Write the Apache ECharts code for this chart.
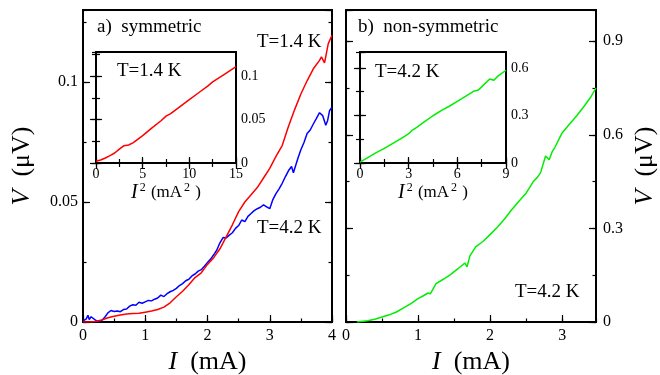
<!DOCTYPE html>
<html>
<head>
<meta charset="utf-8">
<script src="https://cdn.jsdelivr.net/npm/echarts@6/dist/echarts.min.js"></script>
<style>
    html, body { margin: 0; padding: 0; background: #fff; }
    #chart { width: 660px; height: 375px; }
</style>
</head>
<body>
<div id="chart"></div>
<script>
// a) symmetric, T=1.4 K
var symI14 = [0, 0.1, 0.2, 0.3, 0.4, 0.5, 0.6, 0.7, 0.8, 0.9, 1.0, 1.1, 1.2, 1.3, 1.4, 1.5, 1.6, 1.7, 1.8, 1.9, 2.0,
    2.1, 2.2, 2.3, 2.4, 2.5, 2.6, 2.7, 2.8, 2.9, 3.0, 3.1, 3.2, 3.3, 3.4, 3.5, 3.6, 3.7, 3.8, 3.83, 3.88, 3.94, 4.0];
var symV14 = [0, 0, 0.0002, 0.0008, 0.0018, 0.0024, 0.0029, 0.0033, 0.0035, 0.0036, 0.0041, 0.0046, 0.0052, 0.0062,
    0.0080, 0.0105, 0.0128, 0.0155, 0.0185, 0.0205, 0.0240, 0.0268, 0.0305, 0.0355, 0.0405, 0.0460, 0.0500, 0.0530,
    0.0560, 0.0600, 0.0640, 0.0690, 0.0735, 0.0815, 0.0885, 0.0950, 0.1005, 0.1055, 0.1090, 0.1105, 0.1080, 0.1160, 0.1195];

// a) symmetric, T=4.2 K
var symI42 = [0, 0.05, 0.08, 0.1, 0.13, 0.15, 0.2, 0.25, 0.3, 0.35, 0.4, 0.45, 0.5, 0.55, 0.6, 0.65, 0.7, 0.75, 0.8,
    0.85, 0.9, 0.95, 1.0, 1.05, 1.1, 1.15, 1.2, 1.25, 1.3, 1.35, 1.4, 1.45, 1.5, 1.55, 1.6, 1.65, 1.7, 1.75, 1.8, 1.85,
    1.9, 1.95, 2.0, 2.05, 2.1, 2.15, 2.2, 2.25, 2.3, 2.35, 2.4, 2.45, 2.5, 2.55, 2.6, 2.65, 2.7, 2.75, 2.8, 2.85, 2.9,
    2.95, 3.0, 3.05, 3.1, 3.15, 3.2, 3.25, 3.3, 3.35, 3.38, 3.42, 3.45, 3.5, 3.55, 3.6, 3.65, 3.7, 3.75, 3.8, 3.85,
    3.9, 3.93, 3.96, 4.0];
var symV42 = [0.0005, 0.0012, 0.0028, 0.0010, 0.0022, 0.0024, 0.0008, 0.0002, 0.0006, 0.0020, 0.0038, 0.0048, 0.0044,
    0.0046, 0.0043, 0.0052, 0.0054, 0.0066, 0.0072, 0.0070, 0.0082, 0.0078, 0.0084, 0.0090, 0.0088, 0.0095, 0.0100,
    0.0112, 0.0106, 0.0118, 0.0126, 0.0132, 0.0140, 0.0152, 0.0160, 0.0172, 0.0178, 0.0192, 0.0200, 0.0212, 0.0218,
    0.0232, 0.0248, 0.0262, 0.0280, 0.0300, 0.0330, 0.0352, 0.0350, 0.0362, 0.0372, 0.0390, 0.0402, 0.0425, 0.0418,
    0.0440, 0.0452, 0.0464, 0.0472, 0.0478, 0.0488, 0.0480, 0.0472, 0.0510, 0.0535, 0.0555, 0.0578, 0.0605, 0.0630,
    0.0648, 0.0622, 0.0655, 0.0680, 0.0718, 0.0748, 0.0785, 0.0800, 0.0825, 0.0848, 0.0872, 0.0860, 0.0820, 0.0840,
    0.0880, 0.0895];

// inset a): V vs I^2 at 1.4 K
var insI2a = [0, 0.5, 1, 1.5, 2, 2.5, 3, 3.5, 4, 5, 6, 7, 7.5, 8, 9, 10, 11, 12, 12.5, 13, 14, 15];
var insVa = [0.002, 0.0035, 0.0058, 0.0085, 0.0115, 0.016, 0.020, 0.0208, 0.0235, 0.0315, 0.0405, 0.049, 0.054,
    0.057, 0.065, 0.073, 0.081, 0.089, 0.0935, 0.097, 0.104, 0.111];

// b) non-symmetric, T=4.2 K
var nsI = [0.15, 0.3, 0.4, 0.5, 0.6, 0.7, 0.8, 0.9, 1.0, 1.08, 1.14, 1.17, 1.25, 1.35, 1.45, 1.55, 1.65, 1.68, 1.72,
    1.8, 1.9, 2.0, 2.1, 2.2, 2.3, 2.4, 2.5, 2.6, 2.65, 2.7, 2.77, 2.82, 2.86, 2.9, 3.0, 3.1, 3.2, 3.3, 3.4, 3.47];
var nsV = [0, 0.004, 0.009, 0.016, 0.023, 0.032, 0.045, 0.059, 0.075, 0.085, 0.093, 0.090, 0.123, 0.137, 0.152,
    0.170, 0.189, 0.177, 0.212, 0.241, 0.258, 0.280, 0.304, 0.330, 0.360, 0.387, 0.413, 0.450, 0.462, 0.478, 0.532,
    0.520, 0.545, 0.560, 0.606, 0.634, 0.660, 0.690, 0.722, 0.750];

// inset b): V vs I^2 at 4.2 K
var insI2b = [0, 0.5, 1, 1.5, 2, 2.5, 2.75, 2.85, 3.0, 3.2, 3.5, 4, 4.5, 5, 5.5, 6, 6.5, 7, 7.3, 7.5, 8, 8.1, 8.25, 8.5, 9];
var insVb = [0.005, 0.035, 0.065, 0.092, 0.122, 0.152, 0.168, 0.160, 0.185, 0.205, 0.225, 0.262, 0.298, 0.330,
    0.358, 0.388, 0.420, 0.452, 0.460, 0.480, 0.530, 0.540, 0.522, 0.548, 0.585];

var FONT = 'Liberation Serif';
var xAxes = [], yAxes = [];

function zip(a, b) {
    return a.map(function (v, i) { return [v, b[i]]; });
}

function makeAxis(grid, pos, min, max, step, len, lbl) {
    return {
        type: 'value', gridIndex: grid, position: pos, min: min, max: max, interval: step,
        axisLine: {show: false},
        splitLine: {show: false},
        axisTick: {show: true, inside: true, length: len, lineStyle: {color: '#000', width: 1.2}},
        axisLabel: lbl ? Object.assign({show: true, color: '#000', fontFamily: FONT}, lbl) : {show: false}
    };
}

// major + minor tick axis on one side, returns index of the major one
function side(list, grid, pos, min, max, step, big, small, lbl, name) {
    var a = makeAxis(grid, pos, min, max, step, big, lbl);
    if (name) Object.assign(a, name);
    list.push(a);
    var idx = list.length - 1;
    list.push(makeAxis(grid, pos, min, max, step / 2, small, null));
    return idx;
}

function mainName(text, gap, extra) {
    return Object.assign({
        name: text, nameLocation: 'middle', nameGap: gap,
        nameTextStyle: {
            rich: {
                i: {fontFamily: FONT, fontStyle: 'italic', fontSize: 26, color: '#000'},
                n: {fontFamily: FONT, fontSize: 26, color: '#000'}
            }
        }
    }, extra || {});
}

function insetName(gap) {
    return {
        name: '{i|I}{s|2}{n| (mA}{s|2}{n| )}', nameLocation: 'middle', nameGap: gap,
        nameTextStyle: {
            rich: {
                i: {fontFamily: FONT, fontStyle: 'italic', fontSize: 20, lineHeight: 22, color: '#000'},
                s: {fontFamily: FONT, fontSize: 12, lineHeight: 12, verticalAlign: 'top', color: '#000', padding: [0, 1, 0, 2]},
                n: {fontFamily: FONT, fontSize: 17, lineHeight: 22, color: '#000'}
            }
        }
    };
}

// grid 0: a) symmetric
var ax0 = side(xAxes, 0, 'bottom', 0, 4, 1, 7, 3.5, {fontSize: 16, margin: 6}, mainName('{i|I}{n|  (mA)}', 22));
var ay0 = side(yAxes, 0, 'left', 0, 0.13, 0.05, 7, 3.5, {fontSize: 16, margin: 5, showMaxLabel: false},
    mainName('{i|V}{n|  (μV)}', 48, {nameRotate: 90}));
side(yAxes, 0, 'right', 0, 0.13, 0.05, 7, 3.5, null);

// grid 1: b) non-symmetric
var ax1 = side(xAxes, 1, 'bottom', 0, 3.47, 1, 7, 3.5, {fontSize: 16, margin: 6, showMaxLabel: false},
    mainName('{i|I}{n|  (mA)}', 22));
var ay1 = side(yAxes, 1, 'left', 0, 1.0, 0.3, 7, 3.5, null);
side(yAxes, 1, 'right', 0, 1.0, 0.3, 7, 3.5, {fontSize: 16, margin: 7, showMaxLabel: false},
    mainName('{i|V}{n|  (μV)}', 36, {nameRotate: 90}));

// grid 2: inset a)
var ax2 = side(xAxes, 2, 'bottom', 0, 15, 5, 6, 4, {fontSize: 14, margin: 4}, insetName(19));
side(xAxes, 2, 'top', 0, 15, 5, 6, 4, null);
var ay2 = side(yAxes, 2, 'left', 0, 0.128, 0.05, 6, 4, null);
side(yAxes, 2, 'right', 0, 0.128, 0.05, 6, 4, {fontSize: 14, margin: 5, showMaxLabel: false});

// grid 3: inset b)
var ax3 = side(xAxes, 3, 'bottom', 0, 9, 3, 6, 4, {fontSize: 14, margin: 4}, insetName(19));
side(xAxes, 3, 'top', 0, 9, 3, 6, 4, null);
var ay3 = side(yAxes, 3, 'left', 0, 0.7, 0.3, 6, 4, null);
side(yAxes, 3, 'right', 0, 0.7, 0.3, 6, 4, {fontSize: 14, margin: 5, showMaxLabel: false});

function line(xi, yi, data, color) {
    return {
        type: 'line', xAxisIndex: xi, yAxisIndex: yi, data: data,
        showSymbol: false, symbol: 'none', clip: true,
        lineStyle: {color: color, width: 1.5}
    };
}

function label(text, x, y) {
    return {
        type: 'text', x: x, y: y, z: 10,
        style: {text: text, font: '19px "' + FONT + '"', fill: '#000', verticalAlign: 'middle'}
    };
}

var frame = {show: true, borderColor: '#000', borderWidth: 2, containLabel: false, outerBoundsMode: 'none'};

var option = {
    animation: false,
    backgroundColor: '#fff',
    grid: [
        Object.assign({left: 83, top: 10, width: 249, height: 312, backgroundColor: 'transparent'}, frame),
        Object.assign({left: 346, top: 10, width: 250, height: 312, backgroundColor: 'transparent'}, frame),
        Object.assign({left: 96, top: 52, width: 140, height: 111, backgroundColor: '#fff'}, frame),
        Object.assign({left: 360, top: 52, width: 146, height: 111, backgroundColor: '#fff'}, frame)
    ],
    xAxis: xAxes,
    yAxis: yAxes,
    series: [
        line(ax0, ay0, zip(symI42, symV42), '#0000ff'),
        line(ax0, ay0, zip(symI14, symV14), '#ff0000'),
        line(ax1, ay1, zip(nsI, nsV), '#00ee00'),
        line(ax2, ay2, zip(insI2a, insVa), '#ff0000'),
        line(ax3, ay3, zip(insI2b, insVb), '#00ee00')
    ],
    graphic: [
        label('a)  symmetric', 97, 27),
        label('T=1.4 K', 257, 42),
        label('T=4.2 K', 257, 228),
        label('T=1.4 K', 117, 71),
        label('b)  non-symmetric', 358, 27),
        label('T=4.2 K', 375, 72),
        label('T=4.2 K', 515, 292)
    ]
};

var myChart = echarts.init(document.getElementById('chart'));
myChart.setOption(option);
</script>
</body>
</html>
